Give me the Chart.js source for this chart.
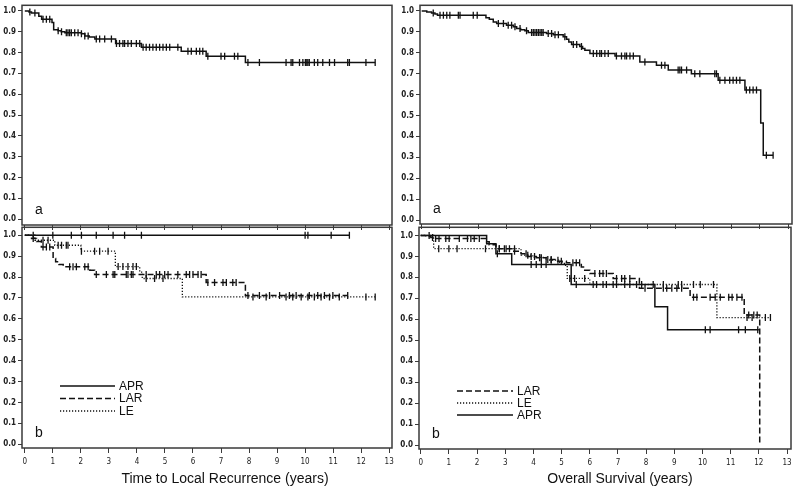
<!DOCTYPE html>
<html>
<head>
<meta charset="utf-8">
<script src="https://cdn.jsdelivr.net/npm/chart.js@4.4.1/dist/chart.umd.min.js"></script>
<style>
  body { margin: 0; background: #fff; width: 800px; height: 497px; position: relative; overflow: hidden; font-family: 'Liberation Sans', Arial, sans-serif; }
  canvas { position: absolute; }
  .xtitle { position: absolute; top: 470px; font-size: 14px; line-height: 16px; color: #111; transform: translateX(-50%); white-space: nowrap; }
</style>
</head>
<body>
<canvas id="tl" width="400" height="232" style="left:0;top:0"></canvas>
<canvas id="tr" width="400" height="232" style="left:400px;top:0"></canvas>
<canvas id="bl" width="400" height="275" style="left:0;top:222px"></canvas>
<canvas id="br" width="400" height="275" style="left:400px;top:222px"></canvas>
<div class="xtitle" style="left:225px">Time to Local Recurrence (years)</div>
<div class="xtitle" style="left:620px">Overall Survival (years)</div>
<script>
"use strict";

// axis ticks
const xTicks = [0, 1, 2, 3, 4, 5, 6, 7, 8, 9, 10, 11, 12, 13]
const yTicks = [0, 0.1, 0.2, 0.3, 0.4, 0.5, 0.6, 0.7, 0.8, 0.9, 1.0]
const yTickLabels = ['0.0', '0.1', '0.2', '0.3', '0.4', '0.5', '0.6', '0.7', '0.8', '0.9', '1.0']

// (a) local recurrence, all patients
const tlTimes = [0, 0.15, 0.24, 0.5, 0.6, 0.97, 1.03, 1.19, 1.3, 1.43, 2.02, 2.14, 2.3, 2.5, 3.24, 4.16, 5.58, 6.47, 7.87, 12.5]
const tlSurv = [1.0, 0.995, 0.99, 0.975, 0.96, 0.945, 0.91, 0.905, 0.9, 0.895, 0.89, 0.88, 0.875, 0.865, 0.843, 0.825, 0.806, 0.782, 0.752, 0.752]
const tlCens = [0.18, 0.36, 0.65, 0.77, 0.89, 1.19, 1.31, 1.48, 1.54, 1.60, 1.66, 1.78, 1.90, 2.02, 2.14, 2.26, 2.55, 2.67, 2.85, 3.09, 3.27, 3.38, 3.50, 3.56, 3.68, 3.80, 3.98, 4.10, 4.22, 4.33, 4.45, 4.57, 4.69, 4.81, 4.93, 5.05, 5.17, 5.46, 5.82, 5.94, 6.12, 6.24, 6.35, 6.53, 7.0, 7.13, 7.48, 7.60, 7.96, 8.37, 9.32, 9.50, 9.56, 9.80, 9.92, 10.01, 10.06, 10.1, 10.15, 10.33, 10.45, 10.63, 10.87, 11.05, 11.52, 11.58, 12.17, 12.5]

// (a) overall survival, all patients
const trTimes = [0, 0.18, 0.35, 0.47, 0.56, 2.28, 2.40, 2.54, 2.66, 3.01, 3.25, 3.37, 3.51, 3.66, 3.78, 4.43, 4.67, 5.02, 5.14, 5.22, 5.32, 5.61, 5.71, 5.79, 5.97, 6.86, 7.74, 8.33, 8.75, 9.57, 10.52, 11.47, 12.03, 12.12, 12.47]
const trSurv = [1.0, 0.995, 0.99, 0.985, 0.98, 0.968, 0.96, 0.947, 0.94, 0.932, 0.924, 0.916, 0.91, 0.905, 0.897, 0.892, 0.886, 0.876, 0.865, 0.852, 0.84, 0.83, 0.82, 0.812, 0.797, 0.784, 0.756, 0.74, 0.718, 0.70, 0.668, 0.622, 0.464, 0.31, 0.31]
const trCens = [0.41, 0.65, 0.77, 0.89, 1.0, 1.30, 1.36, 1.83, 1.97, 2.72, 2.90, 3.07, 3.19, 3.31, 3.49, 3.72, 3.90, 3.96, 4.02, 4.08, 4.14, 4.20, 4.26, 4.31, 4.49, 4.61, 4.73, 4.85, 5.08, 5.38, 5.50, 5.67, 6.09, 6.21, 6.32, 6.38, 6.50, 6.62, 6.91, 7.09, 7.21, 7.27, 7.39, 7.51, 7.92, 8.51, 8.63, 9.10, 9.16, 9.22, 9.40, 9.69, 9.87, 10.40, 10.46, 10.58, 10.76, 10.93, 11.05, 11.17, 11.29, 11.52, 11.64, 11.76, 11.88, 12.23, 12.47]

// (b) local recurrence by procedure
const blAprTimes = [0, 11.58]
const blAprSurv = [1.0, 1.0]
const blAprCens = [0.3, 1.0, 1.66, 2.02, 2.55, 3.15, 3.56, 4.16, 10.0, 10.1, 10.93, 11.58]
const blLarTimes = [0, 0.24, 0.42, 0.59, 1.01, 1.10, 1.22, 1.37, 2.32, 2.49, 6.47, 7.87, 11.52]
const blLarSurv = [1.0, 0.985, 0.97, 0.944, 0.889, 0.873, 0.86, 0.849, 0.833, 0.812, 0.774, 0.712, 0.712]
const blLarCens = [0.30, 0.65, 0.77, 0.89, 1.60, 1.72, 1.84, 2.14, 2.26, 2.55, 2.91, 3.15, 3.21, 3.62, 3.68, 3.80, 3.86, 4.33, 4.69, 4.81, 4.99, 5.11, 5.46, 5.76, 5.88, 6.0, 6.18, 6.29, 6.53, 6.77, 7.07, 7.19, 7.42, 7.54, 7.96, 8.37, 8.73, 9.09, 9.44, 9.68, 10.15, 10.45, 10.69, 10.99, 11.52]
const blLeTimes = [0, 0.36, 1.07, 2.0, 3.23, 4.10, 4.19, 5.62, 12.5]
const blLeSurv = [1.0, 0.976, 0.952, 0.924, 0.85, 0.824, 0.793, 0.705, 0.705]
const blLeCens = [0.65, 0.83, 1.19, 1.31, 1.48, 1.54, 2.02, 2.49, 2.67, 2.97, 3.33, 3.50, 3.68, 3.86, 3.98, 4.33, 4.63, 4.93, 8.14, 8.61, 9.32, 9.56, 9.86, 10.1, 10.33, 10.57, 10.87, 11.22, 12.17, 12.5]

// (b) overall survival by procedure
const brLarTimes = [0, 0.18, 0.36, 0.48, 2.34, 2.43, 2.67, 3.27, 3.56, 3.80, 4.10, 4.45, 4.81, 5.17, 5.70, 5.82, 6.0, 6.83, 7.76, 9.56, 11.48, 12.03]
const brLarSurv = [1.0, 0.995, 0.99, 0.985, 0.97, 0.956, 0.937, 0.925, 0.913, 0.90, 0.894, 0.885, 0.877, 0.870, 0.85, 0.834, 0.818, 0.795, 0.748, 0.705, 0.621, 0.0]
const brLarCens = [0.42, 0.53, 0.65, 0.89, 1.01, 1.37, 1.66, 1.78, 1.90, 2.08, 2.79, 2.97, 3.15, 3.33, 3.74, 3.92, 4.04, 4.22, 4.28, 4.51, 4.63, 4.99, 5.40, 5.52, 5.64, 6.18, 6.35, 6.47, 6.59, 6.95, 7.13, 7.24, 7.42, 7.96, 8.61, 8.73, 8.91, 9.09, 9.26, 9.68, 9.80, 10.27, 10.45, 10.63, 10.93, 11.05, 11.22, 11.40, 11.64, 11.82, 11.94]
const brLeTimes = [0, 0.46, 3.56, 3.98, 4.45, 4.93, 5.1, 5.2, 6.0, 10.51, 12.41]
const brLeSurv = [1.0, 0.937, 0.906, 0.895, 0.882, 0.87, 0.858, 0.795, 0.766, 0.608, 0.608]
const brLeCens = [0.30, 0.64, 1.0, 1.29, 2.30, 2.79, 3.03, 3.33, 3.80, 4.22, 4.63, 4.87, 5.29, 5.46, 5.82, 6.24, 6.59, 6.95, 7.42, 7.84, 8.25, 8.61, 9.14, 9.26, 9.68, 9.92, 10.39, 11.58, 11.76, 12.23, 12.41]
const brAprTimes = [0, 2.34, 2.67, 3.23, 5.34, 8.31, 8.76, 12.0]
const brAprSurv = [1.0, 0.96, 0.913, 0.861, 0.766, 0.66, 0.55, 0.55]
const brAprCens = [2.72, 3.92, 4.10, 4.28, 4.45, 5.52, 6.12, 6.47, 6.83, 7.24, 7.66, 10.1, 10.27, 11.28, 11.52, 11.96]

const ink = '#111'
const axisInk = '#3a3a3a'
const tickFamily = "'Liberation Sans Narrow', 'DejaVu Sans Condensed', 'Liberation Sans', sans-serif"
const SOLID = []
const DASHED = [6, 3]
const DOTTED = [1.2, 1.8]

const survAt = (times, surv, t) => {
    let s = surv[0]
    times.forEach((tt, i) => { if (tt <= t) s = surv[i] })
    return s
}

const curve = (times, surv, dash) => ({
    data: times.map((t, i) => ({ x: t, y: surv[i] })),
    stepped: true,
    borderColor: ink,
    borderWidth: dash === DOTTED ? 1.3 : 1.5,
    borderDash: dash,
    pointRadius: 0,
    fill: false
})

const marks = (times, surv, cens) => ({
    data: cens.map(t => ({ x: t, y: survAt(times, surv, t) })),
    showLine: false,
    pointStyle: 'line',
    pointRotation: 90,
    pointRadius: 3.5,
    pointBorderColor: ink,
    pointBorderWidth: 1.3
})

// box round the plot area plus the panel letter
const kmFrame = {
    id: 'kmFrame',
    afterDatasetsDraw(chart, args, opts) {
        const { ctx, chartArea: a } = chart
        ctx.save()
        ctx.strokeStyle = axisInk
        ctx.lineWidth = 1.5
        ctx.strokeRect(a.left, a.top, a.right - a.left, a.bottom - a.top)
        if (opts.letter) {
            ctx.fillStyle = ink
            ctx.font = "14px 'Liberation Sans', Arial, sans-serif"
            ctx.textBaseline = 'alphabetic'
            ctx.fillText(opts.letter, a.left + 13, a.bottom - 11)
        }
        ctx.restore()
    }
}

const kmLegend = {
    id: 'kmLegend',
    afterDraw(chart, args, opts) {
        if (!opts.items) return
        const ctx = chart.ctx
        ctx.save()
        opts.items.forEach((it, i) => {
            const y = opts.y + i * opts.gap
            ctx.strokeStyle = ink
            ctx.lineWidth = 1.4
            ctx.setLineDash(it.dash)
            ctx.beginPath()
            ctx.moveTo(opts.x, y)
            ctx.lineTo(opts.x + opts.len, y)
            ctx.stroke()
            ctx.setLineDash([])
            ctx.fillStyle = ink
            ctx.font = "12px 'Liberation Sans', Arial, sans-serif"
            ctx.textBaseline = 'middle'
            ctx.fillText(it.label, opts.x + opts.len + 4, y + 0.5)
        })
        ctx.restore()
    }
}

const makeChart = (id, datasets, cfg) => new Chart(document.getElementById(id), {
    type: 'line',
    data: { datasets },
    plugins: [kmFrame, kmLegend],
    options: {
        responsive: false,
        animation: false,
        layout: { padding: { left: 0, right: cfg.padRight, top: 5, bottom: 0 } },
        plugins: {
            legend: { display: false },
            tooltip: { enabled: false },
            kmFrame: { letter: cfg.letter },
            kmLegend: cfg.legend || {}
        },
        scales: {
            x: {
                type: 'linear',
                min: cfg.xMin,
                max: cfg.xMax,
                afterBuildTicks: s => { s.ticks = xTicks.map(v => ({ value: v })) },
                afterFit: s => { s.height = cfg.xHeight; s.paddingLeft = 0; s.paddingRight = 0 },
                border: { display: false },
                grid: { drawOnChartArea: false, color: axisInk, lineWidth: 1, tickLength: 5 },
                ticks: {
                    autoSkip: false,
                    maxRotation: 0,
                    padding: 4,
                    color: '#222',
                    font: { family: tickFamily, size: 8 },
                    callback: v => cfg.showX ? String(v) : ''
                }
            },
            y: {
                type: 'linear',
                min: cfg.yMin,
                max: cfg.yMax,
                afterBuildTicks: s => { s.ticks = yTicks.map(v => ({ value: v })) },
                afterFit: s => { s.width = cfg.yWidth; s.paddingTop = 0; s.paddingBottom = 0 },
                border: { display: false },
                grid: { drawOnChartArea: false, color: axisInk, lineWidth: 1, tickLength: 4 },
                ticks: {
                    padding: 2,
                    color: '#222',
                    font: { family: tickFamily, size: 8, weight: 'bold' },
                    callback: (v, i) => yTickLabels[i]
                }
            }
        }
    }
})

makeChart('tl', [
    curve(tlTimes, tlSurv, SOLID),
    marks(tlTimes, tlSurv, tlCens)
], { letter: 'a', xMin: -0.1, xMax: 13.1, yMin: -0.028, yMax: 1.027, yWidth: 22, xHeight: 7, padRight: 8, showX: false })

makeChart('tr', [
    curve(trTimes, trSurv, SOLID),
    marks(trTimes, trSurv, trCens)
], { letter: 'a', xMin: -0.06, xMax: 13.14, yMin: -0.019, yMax: 1.027, yWidth: 20, xHeight: 8, padRight: 8, showX: false })

makeChart('bl', [
    curve(blAprTimes, blAprSurv, SOLID),
    marks(blAprTimes, blAprSurv, blAprCens),
    curve(blLarTimes, blLarSurv, DASHED),
    marks(blLarTimes, blLarSurv, blLarCens),
    curve(blLeTimes, blLeSurv, DOTTED),
    marks(blLeTimes, blLeSurv, blLeCens)
], {
    letter: 'b', xMin: -0.1, xMax: 13.1, yMin: -0.018, yMax: 1.038, yWidth: 22, xHeight: 49, padRight: 8, showX: true,
    legend: { x: 60, y: 164, gap: 12.5, len: 55, items: [
        { label: 'APR', dash: SOLID }, { label: 'LAR', dash: DASHED }, { label: 'LE', dash: DOTTED }
    ] }
})

makeChart('br', [
    curve(brAprTimes, brAprSurv, SOLID),
    marks(brAprTimes, brAprSurv, brAprCens),
    curve(brLarTimes, brLarSurv, DASHED),
    marks(brLarTimes, brLarSurv, brLarCens),
    curve(brLeTimes, brLeSurv, DOTTED),
    marks(brLeTimes, brLeSurv, brLeCens)
], {
    letter: 'b', xMin: -0.06, xMax: 13.14, yMin: -0.019, yMax: 1.039, yWidth: 19, xHeight: 48, padRight: 9, showX: true,
    legend: { x: 57, y: 169, gap: 12, len: 56, items: [
        { label: 'LAR', dash: DASHED }, { label: 'LE', dash: DOTTED }, { label: 'APR', dash: SOLID }
    ] }
})
</script>
</body>
</html>
